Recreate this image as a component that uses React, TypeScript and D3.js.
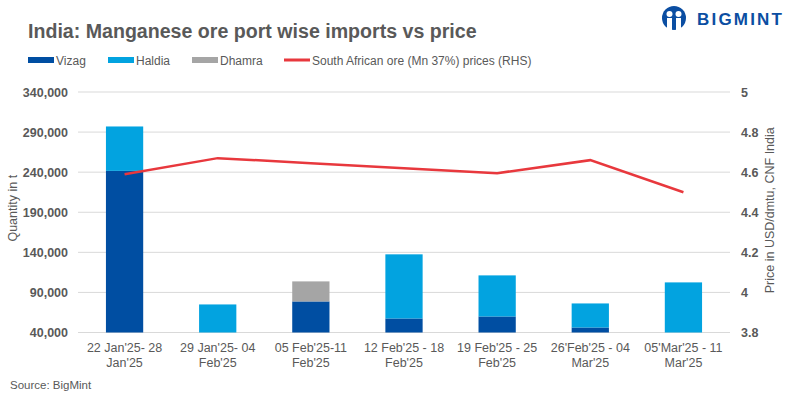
import React, { useEffect, useRef } from 'react';
import * as d3 from 'd3';

const categories = [
  ["22 Jan'25- 28", "Jan'25"],
  ["29 Jan'25- 04", "Feb'25"],
  ["05 Feb'25-11", "Feb'25"],
  ["12 Feb'25 - 18", "Feb'25"],
  ["19 Feb'25 - 25", "Feb'25"],
  ["26'Feb'25 - 04", "Mar'25"],
  ["05'Mar'25 - 11", "Mar'25"],
];
const vizag = [241600, 0, 78750, 57500, 60000, 46250, 0];
const haldia = [55400, 75000, 0, 80000, 51250, 30000, 102500];
const dhamra = [0, 0, 25000, 0, 0, 0, 0];
const price = [4.59, 4.67, 4.645, 4.62, 4.595, 4.66, 4.5];
const leftTicks = [40000, 90000, 140000, 190000, 240000, 290000, 340000];
const rightTicks = [3.8, 4, 4.2, 4.4, 4.6, 4.8, 5];

const series = [
  { key: 'Vizag', values: vizag, color: '#004EA2' },
  { key: 'Haldia', values: haldia, color: '#02A3E0' },
  { key: 'Dhamra', values: dhamra, color: '#A5A5A5' },
];

const FONT = '"Liberation Sans", Arial, sans-serif';
const TEXT = '#595959';

const App: React.FC = () => {
  const svgRef = useRef<SVGSVGElement>(null);

  useEffect(() => {
    if (!svgRef.current) return;
    const svg = d3.select(svgRef.current);
    svg.selectAll('*').remove();

    const width = 799;
    const height = 398;
    const margin = { top: 92, right: 69, bottom: 65.5, left: 78 };

    const x = d3.scaleBand<number>()
      .domain(d3.range(categories.length))
      .range([margin.left, width - margin.right])
      .paddingInner(0.6)
      .paddingOuter(0.3);

    const y = d3.scaleLinear()
      .domain([40000, 340000])
      .range([height - margin.bottom, margin.top])
      .clamp(true);

    const y2 = d3.scaleLinear()
      .domain([3.8, 5])
      .range([height - margin.bottom, margin.top]);

    // gridlines
    svg.append('g')
      .selectAll('line')
      .data(leftTicks)
      .join('line')
      .attr('x1', margin.left)
      .attr('x2', width - margin.right)
      .attr('y1', d => y(d))
      .attr('y2', d => y(d))
      .attr('stroke', '#D9D9D9')
      .attr('stroke-width', 1);

    // stacked bars
    const rows = categories.map((_, i) => ({
      i,
      Vizag: vizag[i],
      Haldia: haldia[i],
      Dhamra: dhamra[i],
    }));
    const stack = d3.stack<any>().keys(series.map(s => s.key));
    const stacked = stack(rows);

    svg.append('g')
      .selectAll('g')
      .data(stacked)
      .join('g')
      .attr('fill', (_, k) => series[k].color)
      .selectAll('rect')
      .data(d => d)
      .join('rect')
      .attr('x', d => x(d.data.i)!)
      .attr('width', x.bandwidth())
      .attr('y', d => y(d[1]))
      .attr('height', d => Math.max(0, y(d[0]) - y(d[1])));

    // price line
    const line = d3.line<number>()
      .x((_, i) => x(i)! + x.bandwidth() / 2)
      .y(d => y2(d));

    svg.append('path')
      .datum(price)
      .attr('fill', 'none')
      .attr('stroke', '#E8383D')
      .attr('stroke-width', 2.5)
      .attr('d', line);

    // left axis labels
    svg.append('g')
      .selectAll('text')
      .data(leftTicks)
      .join('text')
      .attr('x', 68)
      .attr('y', d => y(d) + 4.5)
      .attr('text-anchor', 'end')
      .attr('font-size', 12.5)
      .attr('font-weight', 'bold')
      .attr('fill', TEXT)
      .text(d => d3.format(',')(d));

    // right axis labels
    svg.append('g')
      .selectAll('text')
      .data(rightTicks)
      .join('text')
      .attr('x', 741)
      .attr('y', d => y2(d) + 4.5)
      .attr('font-size', 12.5)
      .attr('font-weight', 'bold')
      .attr('fill', TEXT)
      .text(d => String(d));

    // x labels
    const xl = svg.append('g')
      .selectAll('text')
      .data(categories)
      .join('text')
      .attr('text-anchor', 'middle')
      .attr('font-size', 12.5)
      .attr('fill', TEXT)
      .attr('transform', (_, i) => `translate(${x(i)! + x.bandwidth() / 2},${height - margin.bottom + 19})`);
    xl.selectAll('tspan')
      .data(d => d)
      .join('tspan')
      .attr('x', 0)
      .attr('dy', (_, j) => (j === 0 ? 0 : 15))
      .text(d => d);

    // axis titles
    svg.append('text')
      .attr('transform', `translate(17,${(y(40000) + y(340000)) / 2 - 4}) rotate(-90)`)
      .attr('text-anchor', 'middle')
      .attr('font-size', 12.5)
      .attr('fill', TEXT)
      .text('Quantity in t');

    svg.append('text')
      .attr('transform', `translate(774,${(y(40000) + y(340000)) / 2 - 2}) rotate(-90)`)
      .attr('text-anchor', 'middle')
      .attr('font-size', 12.5)
      .attr('fill', TEXT)
      .text('Price in USD/dmtu, CNF India');

    // title
    svg.append('text')
      .attr('x', 28)
      .attr('y', 38)
      .attr('font-size', 19.6)
      .attr('font-weight', 'bold')
      .attr('fill', TEXT)
      .text('India: Manganese ore port wise imports vs price');

    // legend
    const legend = [
      { label: 'Vizag', color: series[0].color, x: 28, type: 'bar' },
      { label: 'Haldia', color: series[1].color, x: 108, type: 'bar' },
      { label: 'Dhamra', color: series[2].color, x: 192, type: 'bar' },
      { label: 'South African ore (Mn 37%) prices (RHS)', color: '#E8383D', x: 284, type: 'line' },
    ];
    const lg = svg.append('g').selectAll('g').data(legend).join('g')
      .attr('transform', d => `translate(${d.x},60)`);
    lg.append('rect')
      .attr('x', 0)
      .attr('y', d => (d.type === 'bar' ? -3 : -1.5))
      .attr('width', 26)
      .attr('height', d => (d.type === 'bar' ? 6 : 3))
      .attr('fill', d => d.color);
    lg.append('text')
      .attr('x', 28)
      .attr('y', 4.5)
      .attr('font-size', 12)
      .attr('fill', TEXT)
      .text(d => d.label);

    // source
    svg.append('text')
      .attr('x', 10)
      .attr('y', 389)
      .attr('font-size', 11.5)
      .attr('fill', TEXT)
      .text('Source: BigMint');

    // logo
    const logo = svg.append('g').attr('transform', 'translate(674,18)');
    logo.append('circle').attr('r', 12).attr('fill', '#0B4EA2');
    logo.append('circle').attr('cx', -4.5).attr('cy', -4).attr('r', 3).attr('fill', '#fff');
    logo.append('circle').attr('cx', 4.5).attr('cy', -4).attr('r', 3).attr('fill', '#fff');
    logo.append('rect').attr('x', -7).attr('y', 0).attr('width', 5).attr('height', 12).attr('fill', '#fff');
    logo.append('rect').attr('x', 2).attr('y', 0).attr('width', 5).attr('height', 12).attr('fill', '#fff');
    svg.append('text')
      .attr('x', 697)
      .attr('y', 25)
      .attr('font-size', 17)
      .attr('font-weight', 'bold')
      .attr('letter-spacing', 2.2)
      .attr('fill', '#0B4EA2')
      .text('BIGMINT');
  }, []);

  return (
    <div style={{ position: 'absolute', left: 0, top: 0 }}>
      <svg ref={svgRef} width={799} height={398} style={{ fontFamily: FONT, display: 'block', background: '#fff' }} />
    </div>
  );
};

export default App;
